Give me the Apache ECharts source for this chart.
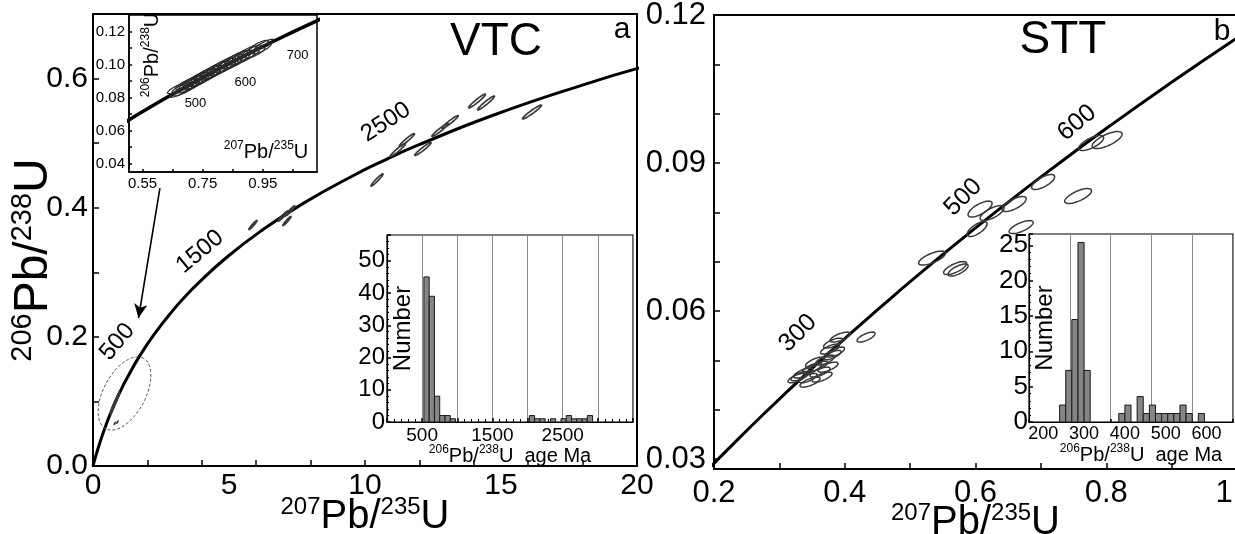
<!DOCTYPE html>
<html><head><meta charset="utf-8">
<script src="https://cdn.jsdelivr.net/npm/echarts@6/dist/echarts.min.js"></script>
<style>html,body{margin:0;padding:0;background:#fff}#c{width:1235px;height:534px}</style>
</head><body><div id="c"></div>
<script>
// ---- Concordia reference points (age in Ma, 207Pb/235U, 206Pb/238U) ----
const concordiaAge = [0,50,100,150,180,200,250,300,350,400,450,500,550,600,650,700,750,800,1000,1200,1400,1500,1600,1800,2000,2200,2400,2500,2600,2800,3000,3100];
const concordiaX = [0,0.05048,0.10350,0.15920,0.19396,0.21771,0.27917,0.34374,0.41156,0.48281,0.55766,0.63628,0.71887,0.80563,0.89677,0.99251,1.09308,1.19873,1.67741,2.26030,2.97009,3.38099,3.83441,4.88690,6.16852,7.72917,9.62957,10.72971,11.94370,14.76166,18.19306,20.17955];
const concordiaY = [0,0.007786,0.015633,0.023542,0.028316,0.031511,0.039543,0.047637,0.055794,0.064016,0.072300,0.08065,0.089064,0.097544,0.10609,0.114702,0.12338,0.13213,0.16780,0.20460,0.24256,0.26199,0.28172,0.32211,0.36377,0.40674,0.45107,0.47375,0.49679,0.54396,0.59261,0.61751];

// ---- VTC (panel a) old grains: centre x, centre y, half-extent x, half-extent y ----
const vtcOldX  = [14.12,14.45,16.14,13.13,12.76,11.54,11.21,12.13,10.44,5.88,6.99,7.24,7.13];
const vtcOldY  = [0.5653,0.5622,0.5482,0.5328,0.5204,0.5049,0.4894,0.4909,0.4429,0.3732,0.3872,0.3949,0.3794];
const vtcOldSx = [0.31,0.31,0.35,0.30,0.30,0.28,0.28,0.30,0.22,0.15,0.18,0.18,0.15];
const vtcOldSy = [0.0108,0.0108,0.0108,0.010,0.010,0.010,0.010,0.010,0.0095,0.007,0.008,0.008,0.007];
const vtcOldRho = 0.96;

// ---- VTC young grains (500-700 Ma, shown in inset) ----
const vtcYoungX = [0.665,0.672,0.680,0.686,0.692,0.698,0.703,0.708,0.713,0.718,0.722,0.728,0.733,0.737,0.742,0.748,0.752,0.757,0.761,0.766,0.771,0.777,0.783,0.789,0.795,0.801,0.806,0.812,0.818,0.824,0.830,0.836,0.842,0.848,0.855,0.861,0.868,0.875,0.882,0.890,0.898,0.906,0.915,0.925,0.936,0.946,0.955];
const vtcYoungY = [0.0856,0.0834,0.0860,0.0842,0.0883,0.0860,0.0883,0.0864,0.0903,0.0880,0.0902,0.0884,0.0923,0.0899,0.0922,0.0904,0.0942,0.0919,0.0941,0.0922,0.0961,0.0939,0.0963,0.0945,0.0985,0.0963,0.0986,0.0967,0.1007,0.0984,0.1008,0.0989,0.1029,0.1006,0.1031,0.1012,0.1053,0.1031,0.1056,0.1039,0.1080,0.1059,0.1086,0.1071,0.1115,0.1096,0.1121];
const vtcYoungSx = 0.032, vtcYoungSy = 0.0032, vtcYoungRho = 0.85;
const vtcMiscX = [0.80,0.90];
const vtcMiscY = [0.066,0.068];

// ---- STT (panel b) grains ----
const sttX  = [0.8014,0.7769,0.7034,0.7570,0.6591,0.6070,0.6254,0.6698,0.6024,0.5336,0.5688,0.5734,0.4326,0.3928,0.3821,0.3775,0.3806,0.3744,0.3622,0.3500,0.3362,0.3653,0.3469,0.3316,0.3546,0.3699,0.3438,0.3270,0.3852,0.3591];
const sttY  = [0.09466,0.09405,0.08615,0.08331,0.08169,0.08067,0.07986,0.07702,0.07662,0.07074,0.06871,0.06831,0.05473,0.05473,0.05351,0.05229,0.05108,0.04864,0.04763,0.04844,0.04743,0.04662,0.04560,0.04682,0.04966,0.05007,0.04642,0.04642,0.05169,0.04885];
const sttSx = [0.0229,0.0191,0.0176,0.0206,0.0184,0.0184,0.0184,0.0184,0.0153,0.0206,0.0176,0.0153,0.0138,0.0153,0.0145,0.0145,0.0138,0.0153,0.0153,0.0145,0.0145,0.0153,0.0153,0.0138,0.0145,0.0145,0.0138,0.0138,0.0145,0.0145];
const sttSy = [0.00172,0.00152,0.00152,0.00152,0.00152,0.00162,0.00152,0.00132,0.00152,0.00142,0.00132,0.00122,0.00101,0.00101,0.00101,0.00101,0.00095,0.00101,0.00101,0.00101,0.00101,0.00101,0.00101,0.00095,0.00101,0.00101,0.00095,0.00095,0.00101,0.00101];
const sttRho = 0.7;

// ---- Histograms: bin start, bin end, count ----
const histABinStart = [525,600,675,750,825,900,2025,2100,2175,2325,2475,2550,2625,2700,2775,2850];
const histABinEnd   = [600,675,750,825,900,975,2100,2175,2250,2400,2550,2625,2700,2775,2850,2925];
const histACount    = [45,39,8,2,2,1,2,1,1,1,1,2,1,1,1,2];
const histBBinStart = [240,255,270,285,300,385,400,430,445,460,475,490,505,520,535,550,580];
const histBBinEnd   = [255,270,285,300,315,400,415,445,460,475,490,505,520,535,550,565,595];
const histBCount    = [2.4,7.3,14.5,25.4,7.3,1.2,2.4,3.6,1.2,2.4,1.2,1.2,1.2,1.2,2.4,1.2,1.2];

// ---- Tick / label values ----
const aXLabels = [0,5,10,15,20];
const aXTicks  = [2,4,6,8,10,12,14,16,18];
const aYLabels = [0,0.2,0.4,0.6];
const aYTicks  = [0.1,0.2,0.3,0.4,0.5,0.6];
const bYLabels = [0.03,0.06,0.09,0.12];
const bYTicks  = [0.03,0.04,0.05,0.06,0.07,0.08,0.09,0.10,0.11,0.12];
const insetXLabels = [0.55,0.75,0.95];
const insetXTicks  = [0.55,0.65,0.75,0.85,0.95,1.05];
const insetYLabels = [0.04,0.06,0.08,0.10,0.12];
const insetYTicks  = [0.04,0.05,0.06,0.07,0.08,0.09,0.10,0.11,0.12];
const histBXLabels = [200,300,400,500,600];
const histAXShown  = [500,1500,2500];

// ---- Age labels along concordia ----
const agesA = [500,1500,2500];
const agesB = [300,500,600];
const agesInset = [500,600,700];

const FONT = 'Liberation Sans';
// screen offsets (px) from the concordia age point to the label centre, and rotation (deg)
const ageLabelStyleA = [{dx:7,dy:-72,rot:50},{dx:15,dy:-45,rot:40},{dx:1,dy:-38,rot:33}];
const ageLabelStyleB = [{dx:-10,dy:-39,rot:45},{dx:-36,dy:-12,rot:45},{dx:-33,dy:-3,rot:40}];
const ageLabelStyleInset = [{dx:27,dy:7,rot:0},{dx:26,dy:14,rot:0},{dx:22,dy:15,rot:0}];

const concordia = concordiaX.map((x,i)=>[x, concordiaY[i]]);
const vtcOld = vtcOldX.map((x,i)=>[x, vtcOldY[i], vtcOldSx[i], vtcOldSy[i], vtcOldRho]);
const vtcYoung = vtcYoungX.map((x,i)=>[x, vtcYoungY[i], vtcYoungSx, vtcYoungSy, vtcYoungRho]);
const vtcMisc = vtcMiscX.map((x,i)=>[x, vtcMiscY[i], 0.03, 0.002, 0.9]);
const stt = sttX.map((x,i)=>[x, sttY[i], sttSx[i], sttSy[i], sttRho]);
const histA = histABinStart.map((s,i)=>[s, histABinEnd[i], histACount[i]]);
const histB = histBBinStart.map((s,i)=>[s, histBBinEnd[i], histBCount[i]]);

function ellipseRender(lw, col){
  return function(params, api){
    const cx=api.value(0), cy=api.value(1), sx=api.value(2), sy=api.value(3), r=api.value(4);
    const q=Math.sqrt(1-r*r), pts=[];
    for(let k=0;k<48;k++){
      const t=k/48*2*Math.PI;
      pts.push(api.coord([cx+sx*Math.cos(t), cy+sy*(r*Math.cos(t)+q*Math.sin(t))]));
    }
    return {type:'polygon', shape:{points:pts}, style:{fill:'none', stroke:col||'#3a3a3a', lineWidth:lw}};
  };
}
function barRender(params, api){
  const p0=api.coord([api.value(0),0]), p1=api.coord([api.value(1),api.value(2)]);
  return {type:'rect', shape:{x:p0[0], y:p1[1], width:p1[0]-p0[0], height:p0[1]-p1[1]},
    style:{fill:'#858585', stroke:'#1a1a1a', lineWidth:1}};
}
function dashedRender(params, api){
  const c=api.coord([api.value(0),api.value(1)]);
  const a=40,b=21,ang=62*Math.PI/180, pts=[];
  for(let k=0;k<60;k++){
    const t=k/60*2*Math.PI, ex=a*Math.cos(t), ey=b*Math.sin(t);
    pts.push([c[0]+ex*Math.cos(ang)-ey*Math.sin(ang), c[1]-(ex*Math.sin(ang)+ey*Math.cos(ang))]);
  }
  return {type:'polygon', shape:{points:pts}, style:{fill:'none', stroke:'#555', lineWidth:1, lineDash:[3,2]}};
}
function ageLabelData(ages, styles, fs){
  return ages.map((a,i)=>{
    const k=concordiaAge.indexOf(a), st=styles[i], th=st.rot*Math.PI/180;
    const c=Math.cos(th), s=Math.sin(th);
    // label offset is applied in the rotated frame: convert the wanted screen offset
    const ox = st.dx*c - st.dy*s, oy = st.dx*s + st.dy*c;
    return {value:[concordiaX[k], concordiaY[k]], label:{show:true, formatter:String(a), position:'inside',
      offset:[ox, oy], rotate:st.rot, fontSize:fs, color:'#000', fontFamily:FONT}};
  });
}
const supRich = (big, small)=>({s:{fontSize:small, fontFamily:FONT, color:'#000', verticalAlign:'top', lineHeight:big+4},
                                m:{fontSize:big, fontFamily:FONT, color:'#000', lineHeight:big+4}});
const axLine = {show:true, onZero:false, lineStyle:{color:'#000', width:2}};
const tick = (len)=>({show:true, inside:true, length:len, lineStyle:{color:'#000', width:1.5}});
const thinLine = (w)=>({show:true, onZero:false, lineStyle:{color:'#000', width:w}});

const option = {
  animation:false,
  backgroundColor:'#fff',
  textStyle:{fontFamily:FONT},
  grid:[
    {left:93, top:14, width:544, height:452, show:true, borderColor:'#000', borderWidth:2, outerBoundsMode:'none', containLabel:false},
    {left:714, top:15, width:523, height:454, show:true, borderColor:'#000', borderWidth:2, outerBoundsMode:'none', containLabel:false},
    {left:129, top:15, width:188, height:157, show:true, borderColor:'#000', borderWidth:1.5, backgroundColor:'#fff', z:5, outerBoundsMode:'none', containLabel:false},
    {left:387, top:235, width:246, height:187, show:true, borderColor:'#000', borderWidth:1.2, backgroundColor:'#fff', z:5, outerBoundsMode:'none', containLabel:false},
    {left:1029, top:234, width:204, height:188, show:true, borderColor:'#000', borderWidth:1.2, backgroundColor:'#fff', z:5, outerBoundsMode:'none', containLabel:false}
  ],
  xAxis:[
    {gridIndex:0, type:'value', min:0, max:20, axisLine:axLine, axisTick:Object.assign(tick(6),{customValues:aXTicks}),
     axisLabel:{customValues:aXLabels, fontSize:30, color:'#000', margin:5}, splitLine:{show:false},
     name:'{s|207}{m|Pb/}{s|235}{m|U}', nameLocation:'middle', nameGap:29, nameMoveOverlap:false, nameTextStyle:{rich:supRich(40,24)}},
    {gridIndex:1, type:'value', min:0.2, max:1.0, interval:0.2, axisLine:axLine, axisTick:tick(6),
     minorTick:{show:true, splitNumber:2, length:6, lineStyle:{color:'#000', width:1.5}},
     axisLabel:{fontSize:31, color:'#000', margin:9, formatter:v=>v.toFixed(1)}, splitLine:{show:false}, minorSplitLine:{show:false},
     name:'{s|207}{m|Pb/}{s|235}{m|U}', nameLocation:'middle', nameGap:32, nameMoveOverlap:false, nameTextStyle:{rich:supRich(40,24)}},
    {gridIndex:2, type:'value', min:0.505, max:1.13, z:6, axisLine:thinLine(1.5),
     axisTick:Object.assign(tick(3),{customValues:insetXTicks}),
     axisLabel:{customValues:insetXLabels, fontSize:15, color:'#000', margin:4, formatter:v=>v.toFixed(2)}, splitLine:{show:false}},
    {gridIndex:3, type:'value', min:0, max:3500, interval:500, z:6, axisLine:thinLine(1.2),
     axisTick:tick(4), minorTick:{show:true, splitNumber:5, length:3, lineStyle:{color:'#000'}},
     axisLabel:{fontSize:19, color:'#000', margin:4, formatter:v=>histAXShown.indexOf(v)>=0?String(v):''},
     splitLine:{show:true, lineStyle:{color:'#8a8a8a', width:1}},
     name:'{s|206}{m|Pb/}{s|238}{m|U  age Ma}', nameLocation:'middle', nameGap:22, nameMoveOverlap:false, nameTextStyle:{rich:supRich(20,12)}},
    {gridIndex:4, type:'value', min:165, max:665, interval:100, z:6, axisLine:thinLine(1.2),
     axisTick:tick(3),
     axisLabel:{customValues:histBXLabels, fontSize:18, color:'#000', margin:3},
     splitLine:{show:true, lineStyle:{color:'#8a8a8a', width:1}},
     name:'{s|206}{m|Pb/}{s|238}{m|U  age Ma}', nameLocation:'middle', nameGap:21, nameMoveOverlap:false, nameTextStyle:{rich:supRich(20,12), padding:[0,0,0,20]}}
  ],
  yAxis:[
    {gridIndex:0, type:'value', min:0, max:0.7, axisLine:axLine, axisTick:Object.assign(tick(6),{customValues:aYTicks}),
     axisLabel:{customValues:aYLabels, fontSize:30, color:'#000', margin:5, formatter:v=>v.toFixed(1)}, splitLine:{show:false}},
    {gridIndex:1, type:'value', min:0.028, max:0.12, axisLine:axLine, axisTick:Object.assign(tick(6),{customValues:bYTicks}),
     axisLabel:{customValues:bYLabels, fontSize:31, color:'#000', margin:8, formatter:v=>v.toFixed(2)}, splitLine:{show:false}},
    {gridIndex:2, type:'value', min:0.035, max:0.13, z:6, axisLine:thinLine(1.5),
     axisTick:Object.assign(tick(3),{customValues:insetYTicks}),
     axisLabel:{customValues:insetYLabels, fontSize:15, color:'#000', margin:4, formatter:v=>v.toFixed(2)}, splitLine:{show:false}},
    {gridIndex:3, type:'value', min:0, max:58, interval:10, z:6, axisLine:thinLine(1.2),
     axisTick:tick(4), minorTick:{show:true, splitNumber:5, length:2, lineStyle:{color:'#000'}},
     axisLabel:{fontSize:24, color:'#000', margin:2, showMaxLabel:false}, splitLine:{show:false},
     name:'Number', nameLocation:'middle', nameGap:-28, nameMoveOverlap:false, nameTextStyle:{fontSize:24, color:'#000', fontFamily:FONT}},
    {gridIndex:4, type:'value', min:0, max:26.6, interval:5, z:6, axisLine:thinLine(1.2),
     axisTick:tick(4), minorTick:{show:true, splitNumber:5, length:2, lineStyle:{color:'#000'}},
     axisLabel:{fontSize:26, color:'#000', margin:1, showMaxLabel:false}, splitLine:{show:false},
     name:'Number', nameLocation:'middle', nameGap:-28, nameMoveOverlap:false, nameTextStyle:{fontSize:24, color:'#000', fontFamily:FONT}}
  ],
  series:[
    {type:'line', xAxisIndex:0, yAxisIndex:0, data:concordia, smooth:true, showSymbol:false, lineStyle:{color:'#000', width:3}, z:3},
    {type:'line', xAxisIndex:1, yAxisIndex:1, data:concordia, smooth:true, showSymbol:false, lineStyle:{color:'#000', width:3}, z:3},
    {type:'line', xAxisIndex:2, yAxisIndex:2, data:concordia, smooth:true, showSymbol:false, lineStyle:{color:'#000', width:3.5}, z:8},
    {type:'custom', xAxisIndex:0, yAxisIndex:0, data:vtcOld, renderItem:ellipseRender(1.7), encode:{x:0,y:1}, clip:true, z:4},
    {type:'custom', xAxisIndex:0, yAxisIndex:0, data:vtcYoung.concat(vtcMisc), renderItem:ellipseRender(1.2), encode:{x:0,y:1}, clip:true, z:4},
    {type:'custom', xAxisIndex:2, yAxisIndex:2, data:vtcYoung, renderItem:ellipseRender(1.2, '#2a2a2a'), encode:{x:0,y:1}, clip:true, z:9},
    {type:'custom', xAxisIndex:1, yAxisIndex:1, data:stt, renderItem:ellipseRender(1.5), encode:{x:0,y:1}, clip:true, z:4},
    {type:'custom', xAxisIndex:3, yAxisIndex:3, data:histA, renderItem:barRender, encode:{x:[0,1],y:2}, z:9},
    {type:'custom', xAxisIndex:4, yAxisIndex:4, data:histB, renderItem:barRender, encode:{x:[0,1],y:2}, z:9},
    {type:'custom', xAxisIndex:0, yAxisIndex:0, data:[[1.158,0.1123]], renderItem:dashedRender, encode:{x:0,y:1}, z:4,
     markLine:{silent:true, symbol:['none','arrow'], symbolSize:[10,14], label:{show:false},
       lineStyle:{color:'#000', width:1.6, type:'solid'},
       data:[[{coord:[2.46,0.4305]},{coord:[1.673,0.2292]}]]}},
    {type:'scatter', xAxisIndex:0, yAxisIndex:0, data:ageLabelData(agesA, ageLabelStyleA, 24), symbolSize:1, itemStyle:{color:'rgba(0,0,0,0)', opacity:1}, z:4},
    {type:'scatter', xAxisIndex:1, yAxisIndex:1, data:ageLabelData(agesB, ageLabelStyleB, 25), symbolSize:1, itemStyle:{color:'rgba(0,0,0,0)', opacity:1}, z:4},
    {type:'scatter', xAxisIndex:2, yAxisIndex:2, data:ageLabelData(agesInset, ageLabelStyleInset, 13), symbolSize:1, itemStyle:{color:'rgba(0,0,0,0)', opacity:1}, z:10}
  ],
  graphic:[
    {type:'text', x:496, y:42, z:100, style:{text:'VTC', fontSize:46, fontFamily:FONT, fill:'#000', align:'center', verticalAlign:'middle'}},
    {type:'text', x:622, y:30, z:100, style:{text:'a', fontSize:30, fontFamily:FONT, fill:'#000', align:'center', verticalAlign:'middle'}},
    {type:'text', x:1063, y:40, z:100, style:{text:'STT', fontSize:46, fontFamily:FONT, fill:'#000', align:'center', verticalAlign:'middle'}},
    {type:'text', x:1222, y:32, z:100, style:{text:'b', fontSize:30, fontFamily:FONT, fill:'#000', align:'center', verticalAlign:'middle'}},
    {type:'text', x:34, y:260, rotation:Math.PI/2, z:100, style:{text:'{s|206}{m|Pb/}{s|238}{m|U}', rich:supRich(48,29), align:'center', verticalAlign:'middle'}},
    {type:'text', x:152, y:55, rotation:Math.PI/2, z:100, style:{text:'{s|206}{m|Pb/}{s|238}{m|U}', rich:supRich(20,12), align:'center', verticalAlign:'middle'}},
    {type:'text', x:266, y:152, z:100, style:{text:'{s|207}{m|Pb/}{s|235}{m|U}', rich:supRich(20,12), align:'center', verticalAlign:'middle'}}
  ]
};
const chart = echarts.init(document.getElementById('c'), null, {renderer:'canvas'});
chart.setOption(option);
</script></body></html>
